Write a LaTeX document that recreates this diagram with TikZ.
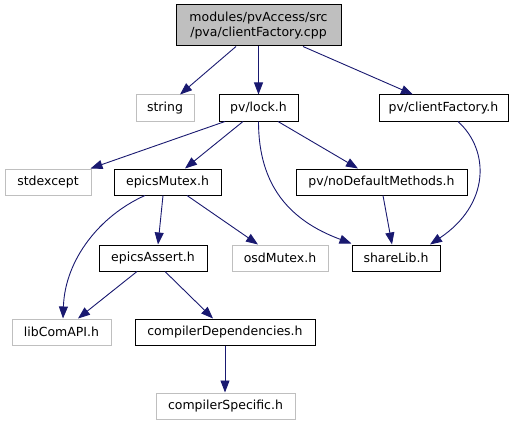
\documentclass[tikz,border=0pt]{standalone}
\usepackage{fontspec}
\setmainfont{DejaVu Sans}
\usetikzlibrary{arrows.meta}
\definecolor{edgeblue}{HTML}{191970}
\definecolor{lightgrayb}{HTML}{BFBFBF}
\begin{document}
\begin{tikzpicture}[x=1pt,y=-1pt,
  nbox/.style={draw=black,line width=1pt,inner sep=0pt,minimum height=26,
     font=\fontsize{12.5}{15}\selectfont,text=black},
  ubox/.style={nbox,draw=lightgrayb},
  edge/.style={draw=edgeblue,line width=0.9pt,-{Triangle[length=12,width=9,fill=edgeblue]}}]
\useasboundingbox (0,0) rectangle (516,425);
\node[nbox,fill=lightgrayb,minimum width=165,minimum height=41,align=center] (main) at (258.5,25.5) {modules/pvAccess/src\\/pva/clientFactory.cpp};
\node[ubox,minimum width=58] (string) at (165,108) {string};
\node[nbox,minimum width=79] (lock) at (258.5,108) {pv/lock.h};
\node[nbox,minimum width=129] (cf) at (443.5,108) {pv/clientFactory.h};
\node[ubox,minimum width=86] (stdexcept) at (48,182) {stdexcept};
\node[nbox,minimum width=107] (mutex) at (167.5,182) {epicsMutex.h};
\node[nbox,minimum width=171] (nodef) at (381.5,182) {pv/noDefaultMethods.h};
\node[nbox,minimum width=108] (assert) at (153,258) {epicsAssert.h};
\node[ubox,minimum width=96] (osd) at (280,258) {osdMutex.h};
\node[nbox,minimum width=88] (share) at (396,258) {shareLib.h};
\node[ubox,minimum width=99] (libcom) at (61.5,332) {libComAPI.h};
\node[nbox,minimum width=180] (cdep) at (225,332) {compilerDependencies.h};
\node[ubox,minimum width=139] (cspec) at (225.5,406) {compilerSpecific.h};

\draw[edge] ([xshift=-22.5]main.south) -- ([xshift=15]string.north);
\draw[edge] (main.south) -- (lock.north);
\draw[edge] ([xshift=44.5]main.south) -- ([xshift=-30.5]cf.north);
\draw[edge] ([xshift=-33.5]lock.south) -- ([xshift=-1]stdexcept.north east);
\draw[edge] ([xshift=-15.5]lock.south) -- ([xshift=17.5]mutex.north);
\draw[edge] (lock.south) .. controls +(0,64) and +(-62,-23) .. ([yshift=1]share.north west);
\draw[edge] ([xshift=19.5]lock.south) -- ([xshift=-23.5]nodef.north);
\draw[edge] ([xshift=14.5]cf.south) .. controls +(32,29) and +(60,-40) .. ([xshift=34]share.north);
\draw[edge] ([xshift=1.5]nodef.south) -- ([xshift=-4]share.north);
\draw[edge] ([xshift=-22.5]mutex.south) .. controls +(-45,20) and +(2,-59) .. ([xshift=1.5]libcom.north);
\draw[edge] ([xshift=-4.5]mutex.south) -- ([xshift=5]assert.north);
\draw[edge] ([xshift=19.5]mutex.south) -- ([xshift=-22]osd.north);
\draw[edge] ([xshift=-16]assert.south) -- ([xshift=16.5]libcom.north);
\draw[edge] ([xshift=12]assert.south) -- ([xshift=-12]cdep.north);
\draw[edge] (cdep.south) -- ([xshift=-0.5]cspec.north);
\end{tikzpicture}
\end{document}
